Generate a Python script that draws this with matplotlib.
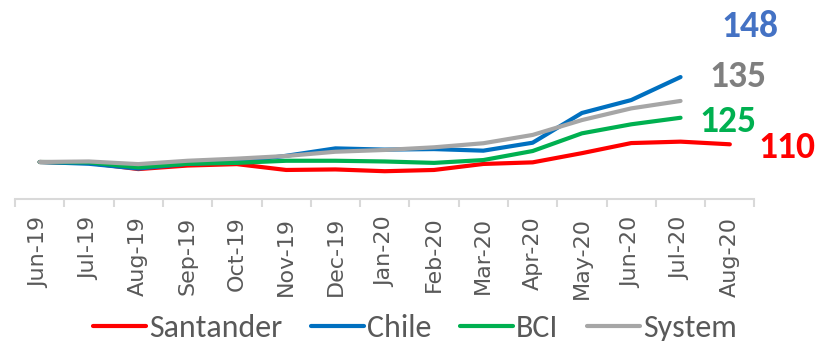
import matplotlib
matplotlib.use("Agg")
import matplotlib.pyplot as plt
import numpy as np
from matplotlib import font_manager as fm

months = ["Jun-19", "Jul-19", "Aug-19", "Sep-19", "Oct-19", "Nov-19", "Dec-19",
          "Jan-20", "Feb-20", "Mar-20", "Apr-20", "May-20", "Jun-20", "Jul-20", "Aug-20"]
santander = [100, 99.5, 96, 98, 98.8, 95.5, 95.8, 94.8, 95.5, 98.9, 99.8, 105, 110.7, 111.5, 110]
chile = [100, 99, 96.3, 99, 100, 103.5, 107.7, 107, 107.3, 106.4, 110.9, 127.7, 135, 148, np.nan]
bci = [100, 99.8, 97, 99, 99.5, 100.7, 100.7, 100.3, 99.5, 101.1, 106.2, 116.2, 121.3, 125, np.nan]
system = [100, 100.3, 98.8, 100.7, 101.9, 103.4, 105.8, 106.8, 108.3, 110.6, 115.3, 123.7, 130.3, 134.5, np.nan]
series_names = ["Santander", "Chile", "BCI", "System"]
series_colors = ["#FF0000", "#0070C0", "#00B050", "#A6A6A6"]
end_labels = ["110", "148", "125", "135"]
label_colors = ["#FF0000", "#4472C4", "#00B050", "#7F7F7F"]

avail = {f.name for f in fm.fontManager.ttflist}
def pick(cands):
    for c in cands:
        if c in avail:
            return c
    return "DejaVu Sans"
legend_font = pick(["Carlito", "Liberation Sans Narrow", "Lato", "Open Sans"])
num_font = pick(["Carlito", "Open Sans", "Lato"])

fig = plt.figure(figsize=(8.19, 3.41), dpi=100)
ax = fig.add_axes([15/819, 1-198.5/341, 739.5/819, (198.5-10)/341])
x = np.arange(len(months))
for vals, name, col in zip([santander, chile, bci, system], series_names, series_colors):
    ax.plot(x, vals, color=col, lw=3.0, label=name, solid_capstyle="round", solid_joinstyle="round")

ax.set_xlim(-0.5, len(months) - 0.5)
ax.set_ylim(79.38, 185.88)
for s in ["top", "right", "left"]:
    ax.spines[s].set_visible(False)
ax.spines["bottom"].set_color("#D9D9D9")
ax.spines["bottom"].set_linewidth(1.5)
ax.set_yticks([])
ax.set_xticks(x)
ax.set_xticklabels(months, rotation=90, fontsize=16, color="#595959", family="DejaVu Sans")
ax.tick_params(axis="x", which="major", length=0, pad=13)
ax.set_xticks(np.arange(-0.5, len(months), 1), minor=True)
ax.tick_params(axis="x", which="minor", length=5.5, width=1.5, color="#D9D9D9")

# end labels: (x index, baseline value)
lab_pos = [(15.16, 102.1), (14.41, 170.8), (13.96, 117.1), (14.17, 142.2)]
for (px, py), txt, col in zip(lab_pos, end_labels, label_colors):
    ax.text(px, py, txt, color=col, fontsize=27, fontweight="bold", family=num_font,
            ha="center", va="baseline", clip_on=False)

fig.legend(loc="center", bbox_to_anchor=(415/819, 1-328/341), ncol=4, frameon=False,
           prop={"family": legend_font, "size": 23}, handlelength=1.65, handletextpad=0.1,
           columnspacing=0.9, labelcolor="#595959")

fig.savefig("out.png", dpi=100)
